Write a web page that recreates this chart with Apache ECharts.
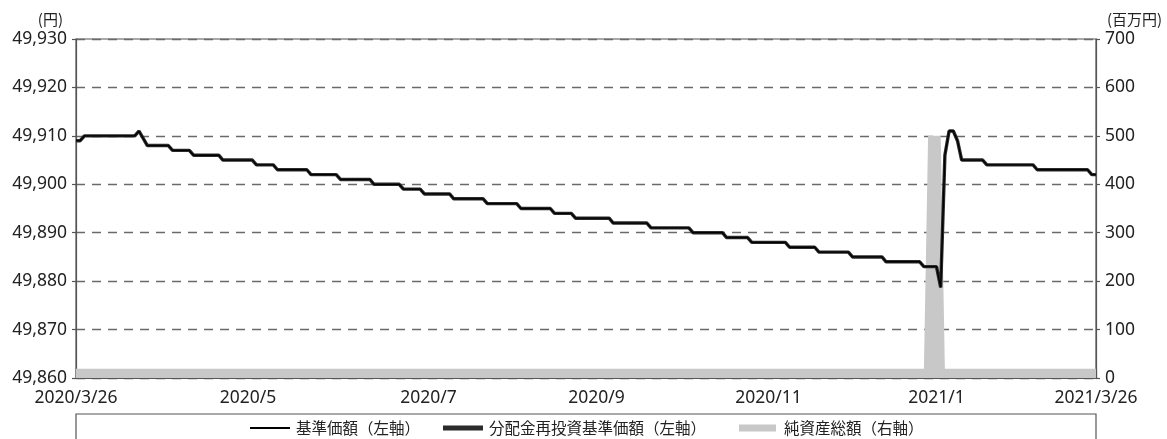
<!DOCTYPE html>
<html>
<head>
<meta charset="utf-8">
<script src="https://cdn.jsdelivr.net/npm/echarts@6/dist/echarts.min.js"></script>
<style>
html,body{margin:0;padding:0;background:#fff;}
#chart{width:1167px;height:439px;}
</style>
</head>
<body>
<div id="chart"></div>
<script>
// x = business-day index from 2020/3/26 (0) to 2021/3/26 (243)
var tickIndex = [0, 41, 84, 124, 165, 205, 243];
var tickLabels = ['2020/3/26', '2020/5', '2020/7', '2020/9', '2020/11', '2021/1', '2021/3/26'];

// 基準価額 (yen) at change points
var navIndex = [0,1,2,14,15,17,22,23,27,28,34,35,42,43,47,48,55,56,62,63,70,71,77,78,82,83,89,90,97,98,105,106,113,114,118,119,127,128,136,137,146,147,154,155,160,161,169,170,176,177,184,185,192,193,201,202,205,206,207,208,209,210,211,216,217,228,229,241,242,243];
var navValue = [49909,49909,49910,49910,49911,49908,49908,49907,49907,49906,49906,49905,49905,49904,49904,49903,49903,49902,49902,49901,49901,49900,49900,49899,49899,49898,49898,49897,49897,49896,49896,49895,49895,49894,49894,49893,49893,49892,49892,49891,49891,49890,49890,49889,49889,49888,49888,49887,49887,49886,49886,49885,49885,49884,49884,49883,49883,49878.7,49906,49911,49911,49909,49905,49905,49904,49904,49903,49903,49902,49902];
// 分配金再投資基準価額 (yen) — identical to 基準価額 (no distributions)
var reinvIndex = navIndex.slice();
var reinvValue = navValue.slice();

// 純資産総額 (million yen) at change points
var assetIndex = [0, 202, 203, 206, 207, 243];
var assetValue = [19, 19, 500, 500, 19, 19];

function pairs(xs, ys) { return xs.map(function (x, i) { return [x, ys[i]]; }); }

var FONT = "'Noto Sans', 'Noto Sans CJK JP', sans-serif";
var JP = "'Noto Sans CJK JP', sans-serif";
var TXT = '#222';
var AX = '#555';

var chart = echarts.init(document.getElementById('chart'), null, {renderer: 'canvas'});
chart.setOption({
  animation: false,
  grid: {left: 76, right: 71, top: 39, bottom: 61, show: true, borderColor: AX, borderWidth: 1.2, backgroundColor: 'transparent'},
  xAxis: {
    type: 'value', min: 0, max: 243,
    axisLine: {show: true, lineStyle: {color: AX, width: 1.2}},
    axisTick: {show: true, inside: true, length: 8, customValues: tickIndex, lineStyle: {color: AX, width: 1.2}},
    axisLabel: {
      customValues: tickIndex, margin: 11, color: TXT, fontSize: 17.5, fontFamily: FONT,
      formatter: function (v) { var i = tickIndex.indexOf(v); return i >= 0 ? tickLabels[i] : ''; }
    },
    splitLine: {show: false}
  },
  yAxis: [{
    type: 'value', min: 49860, max: 49930, interval: 10, position: 'left',
    name: '(円)', nameLocation: 'end', nameGap: 12,
    nameTextStyle: {color: TXT, fontSize: 15, fontFamily: JP, align: 'right', padding: [0, 13, 0, 0]},
    axisLine: {show: true, lineStyle: {color: AX, width: 1.2}},
    axisTick: {show: true, length: 4, lineStyle: {color: AX, width: 1.2}},
    axisLabel: {margin: 9, color: TXT, fontSize: 17.5, fontFamily: FONT,
      formatter: function (v) { return echarts.format.addCommas(v); }},
    splitLine: {show: true, lineStyle: {color: '#6a6a6a', width: 1.3, type: [9, 7]}}
  }, {
    type: 'value', min: 0, max: 700, interval: 100, position: 'right',
    name: '(百万円)', nameLocation: 'end', nameGap: 12,
    nameTextStyle: {color: TXT, fontSize: 15, fontFamily: JP, align: 'left', padding: [0, 0, 0, 11]},
    axisLine: {show: true, lineStyle: {color: AX, width: 1.2}},
    axisTick: {show: true, length: 4, lineStyle: {color: AX, width: 1.2}},
    axisLabel: {margin: 9, color: TXT, fontSize: 17.5, fontFamily: FONT},
    splitLine: {show: false}
  }],
  legend: [{
    data: ['基準価額（左軸）'], left: 250, top: 420, padding: 0,
    icon: 'rect', itemWidth: 40, itemHeight: 2,
    textStyle: {color: TXT, fontSize: 15.5, fontFamily: JP, lineHeight: 16, padding: [0, 0, 0, 1]}
  }, {
    data: ['分配金再投資基準価額（左軸）'], left: 443, top: 420, padding: 0,
    icon: 'rect', itemWidth: 40, itemHeight: 5,
    textStyle: {color: TXT, fontSize: 15.5, fontFamily: JP, lineHeight: 16, padding: [0, 0, 0, 1]}
  }, {
    data: ['純資産総額（右軸）'], left: 739, top: 420, padding: 0,
    icon: 'rect', itemWidth: 37, itemHeight: 7,
    textStyle: {color: TXT, fontSize: 15.5, fontFamily: JP, lineHeight: 16, padding: [0, 0, 0, 3]}
  }],
  graphic: [{
    type: 'rect', shape: {x: 76, y: 414, width: 1020, height: 60},
    style: {fill: 'none', stroke: AX, lineWidth: 1.2}, silent: true
  }],
  series: [{
    name: '純資産総額（右軸）', type: 'line', yAxisIndex: 1,
    data: pairs(assetIndex, assetValue), showSymbol: false, symbol: 'none',
    lineStyle: {width: 0, color: '#c8c8c8'}, itemStyle: {color: '#c8c8c8'},
    areaStyle: {color: '#c8c8c8', opacity: 1}, z: 1
  }, {
    name: '分配金再投資基準価額（左軸）', type: 'line', yAxisIndex: 0,
    data: pairs(reinvIndex, reinvValue), showSymbol: false, symbol: 'none',
    lineStyle: {width: 3.4, color: '#2b2b2b'}, itemStyle: {color: '#2b2b2b'}, z: 3
  }, {
    name: '基準価額（左軸）', type: 'line', yAxisIndex: 0,
    data: pairs(navIndex, navValue), showSymbol: false, symbol: 'none',
    lineStyle: {width: 1.3, color: '#000'}, itemStyle: {color: '#000'}, z: 4
  }]
});
</script>
</body>
</html>
